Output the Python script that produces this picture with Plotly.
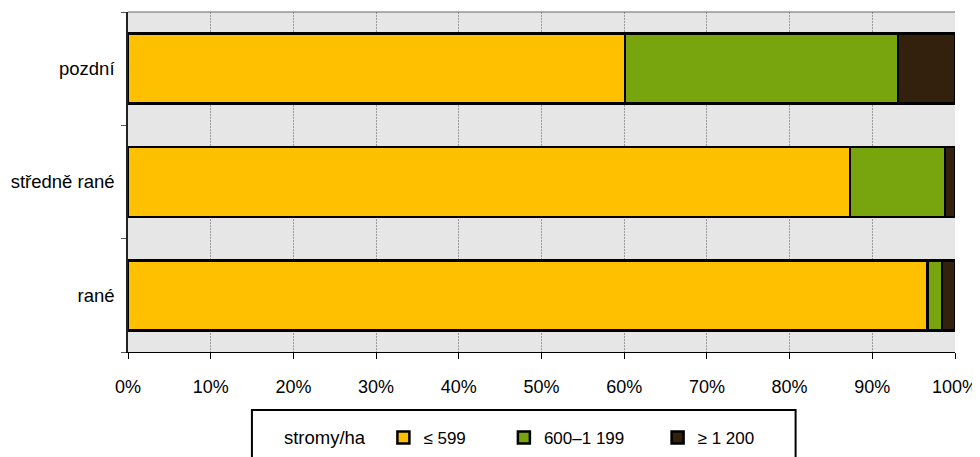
import plotly.graph_objects as go

categories = ["rané", "středně rané", "pozdní"]
series_names = ["≤ 599", "600–1 199", "≥ 1 200"]
le599 = [96.7, 87.3, 60.1]
mid600_1199 = [1.7, 11.5, 33.0]
ge1200 = [1.6, 1.2, 6.9]
tick_vals = [0, 10, 20, 30, 40, 50, 60, 70, 80, 90, 100]
tick_text = [f"{v}%" for v in tick_vals]

colors = ["#FFC000", "#78A50E", "#33210D"]
FONT = "Arial, Liberation Sans, sans-serif"
pads = ["\u00a0" * 7, "\u00a0" * 6, ""]

fig = go.Figure()
for name, vals, col, pad in zip(series_names, [le599, mid600_1199, ge1200], colors, pads):
    fig.add_trace(go.Bar(
        y=categories, x=vals, name=name + pad, orientation="h",
        marker=dict(color=col, line=dict(color="#000000", width=2.5)),
    ))

# page body has an 8px margin: work in screen pixels, shift by 8
OFF = 8
W, H = 972, 449
ml = 128 - OFF
mt = 12 - OFF
plot_right = 955.5 - OFF
plot_bottom = 352 - OFF
mr = W - plot_right
mb = H - plot_bottom
pw = W - ml - mr
ph = H - mt - mb

def px_x(p):
    return (p - OFF - ml) / pw

def px_y(p):
    return (plot_bottom - (p - OFF)) / ph

fig.update_layout(
    width=W, height=H,
    margin=dict(l=ml, r=mr, t=mt, b=mb, autoexpand=False),
    barmode="stack", bargap=0.382,
    plot_bgcolor="#E6E6E6", paper_bgcolor="#FFFFFF",
    font=dict(family=FONT, size=17, color="#000000"),
    xaxis=dict(
        range=[0, 100], tickvals=tick_vals, ticktext=tick_text,
        tickfont=dict(size=18),
        showgrid=True, gridcolor="#999999", griddash="2px,1px", gridwidth=1,
        showline=True, linecolor="#000000", linewidth=1,
        ticks="outside", ticklen=6, tickcolor="#000000",
        ticklabelstandoff=12, zeroline=False, fixedrange=True,
    ),
    yaxis=dict(
        categoryorder="array", categoryarray=categories,
        tickfont=dict(size=18.5),
        showgrid=False, showline=True, linecolor="#222222", linewidth=1.5,
        ticks="outside", ticklen=5, tickcolor="#555555", tickson="boundaries",
        ticklabelstandoff=8, zeroline=False, fixedrange=True,
    ),
    legend=dict(
        orientation="h", x=px_x(282), xanchor="left",
        y=px_y(438), yanchor="middle",
        title=dict(text="stromy/ha" + "\u00a0" * 2, side="left", font=dict(size=18.5)),
        font=dict(size=17), bgcolor="rgba(0,0,0,0)", borderwidth=0,
        traceorder="normal",
    ),
    shapes=[
        dict(type="line", xref="paper", yref="paper", x0=0, x1=1, y0=1, y1=1,
             line=dict(color="#666666", width=1)),
        dict(type="rect", xref="paper", yref="paper",
             x0=px_x(252), x1=px_x(796), y0=px_y(410), y1=px_y(480),
             line=dict(color="#000000", width=2), fillcolor="rgba(0,0,0,0)"),
    ],
    showlegend=True,
)

fig.write_html("out.html")
